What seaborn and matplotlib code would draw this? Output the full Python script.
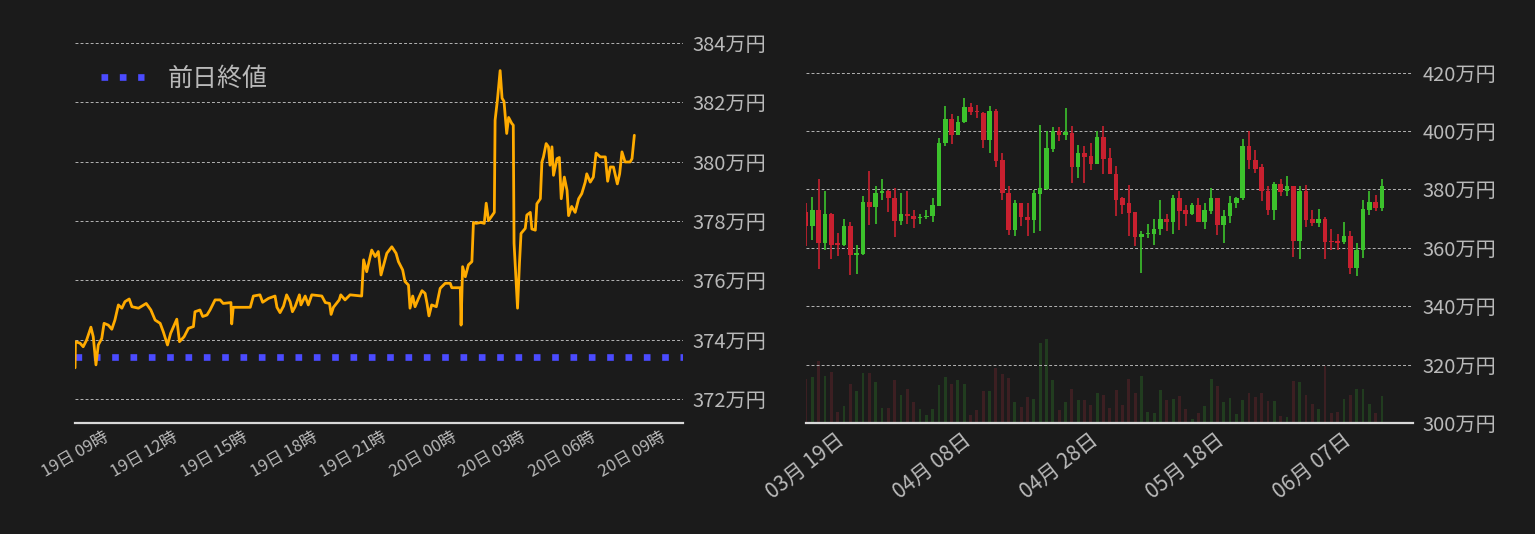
import numpy as np
import pandas as pd
import matplotlib
matplotlib.use("Agg")
import matplotlib.pyplot as plt
import matplotlib.dates as mdates
import seaborn as sns

# 24h price, 万円 (minutes after 19日 09:00)
day_start = pd.Timestamp("2023-06-19 09:00")
minutes = [0, 1, 13, 21, 30, 41, 47, 54, 60, 69,
           75, 86, 95, 103, 112, 121, 129, 140, 147, 164,
           184, 196, 207, 220, 228, 239, 247, 263, 270, 282,
           293, 306, 310, 323, 330, 341, 349, 362, 375, 383,
           403, 405, 409, 453, 461, 478, 485, 500, 517, 522,
           530, 539, 547, 556, 562, 569, 580, 584, 595, 603,
           612, 638, 647, 658, 662, 668, 683, 687, 698, 711,
           741, 746, 754, 767, 776, 784, 791, 799, 806, 819,
           830, 836, 847, 853, 862, 866, 873, 879, 888, 897,
           905, 910, 915, 922, 934, 944, 957, 970, 974, 996,
           998, 1002, 1009, 1017, 1026, 1030, 1037, 1049, 1058, 1063,
           1069, 1078, 1084, 1086, 1092, 1099, 1104, 1109, 1116, 1121,
           1129, 1133, 1135, 1144, 1149, 1153, 1164, 1168, 1177, 1181,
           1190, 1194, 1203, 1207, 1211, 1218, 1224, 1228, 1233, 1237,
           1246, 1252, 1257, 1265, 1272, 1276, 1284, 1293, 1302, 1310,
           1319, 1323, 1332, 1340, 1347, 1358, 1371, 1377, 1384, 1392,
           1402, 1408, 1414, 1422, 1435, 1440, 1446]
price = [373.05, 373.93, 373.88, 373.76, 373.99, 374.42, 374.10, 373.15, 373.82, 374.04,
         374.55, 374.49, 374.35, 374.66, 375.17, 375.06, 375.28, 375.37, 375.11, 375.06,
         375.22, 375.00, 374.66, 374.55, 374.27, 373.82, 374.21, 374.69, 373.93, 374.10,
         374.38, 374.44, 374.94, 375.00, 374.78, 374.83, 375.00, 375.34, 375.34, 375.22,
         375.25, 374.53, 375.09, 375.09, 375.47, 375.51, 375.26, 375.39, 375.47, 375.09,
         374.91, 375.13, 375.51, 375.28, 374.94, 375.11, 375.51, 375.17, 375.47, 375.17,
         375.51, 375.47, 375.25, 375.22, 374.85, 375.09, 375.34, 375.51, 375.34, 375.51,
         375.47, 376.69, 376.29, 377.02, 376.80, 376.97, 376.18, 376.57, 376.91, 377.13,
         376.91, 376.63, 376.35, 375.96, 375.84, 375.06, 375.47, 375.11, 375.39, 375.65,
         375.56, 375.22, 374.80, 375.17, 375.11, 375.73, 375.90, 375.90, 375.75, 375.75,
         374.49, 376.46, 376.12, 376.52, 376.63, 377.95, 377.92, 377.95, 377.92, 378.60,
         378.01, 378.18, 378.29, 381.40, 382.08, 383.07, 382.14, 382.03, 380.95, 381.49,
         381.29, 381.23, 377.25, 375.06, 376.57, 377.58, 377.75, 378.20, 378.29, 377.73,
         377.69, 378.58, 378.75, 379.99, 380.16, 380.61, 380.50, 379.88, 380.50, 379.54,
         380.10, 380.14, 378.75, 379.48, 379.03, 378.18, 378.49, 378.29, 378.75, 378.92,
         379.31, 379.59, 379.31, 379.48, 380.29, 380.16, 380.16, 379.34, 379.82, 379.82,
         379.25, 379.59, 380.33, 379.99, 379.99, 380.10, 380.89]
prev_close = 373.43

# daily candles from 03月19日, 万円
first_day = pd.Timestamp("2023-03-19")
opens = [372.1, 367.4, 373.1, 361.6, 371.7, 361.5, 360.9, 367.6, 357.5, 358.0,
         375.8, 373.9, 378.7, 379.3, 377.2, 369.1, 371.7, 371.0, 370.1, 370.5,
         370.8, 374.2, 395.8, 404.2, 398.5, 403.0, 408.3, 406.6, 406.3, 396.8,
         407.0, 389.9, 378.9, 366.0, 375.2, 370.7, 369.5, 378.3, 380.2, 394.0,
         399.9, 398.7, 399.4, 387.8, 392.6, 391.6, 388.8, 398.1, 390.9, 385.4,
         376.9, 375.2, 372.1, 363.6, 364.7, 364.7, 366.3, 370.0, 368.8, 377.2,
         372.8, 371.4, 374.8, 369.0, 372.5, 377.2, 367.7, 370.8, 375.3, 376.9,
         395.0, 390.2, 387.5, 379.6, 372.9, 382.0, 379.4, 381.0, 362.3, 379.6,
         369.7, 368.4, 369.7, 362.2, 362.2, 361.9, 364.2, 353.0, 359.2, 373.1,
         375.8, 373.6]
highs = [375.2, 377.3, 383.4, 379.3, 372.0, 365.1, 369.7, 369.0, 361.1, 377.9,
         386.4, 381.2, 383.4, 379.8, 380.6, 378.6, 379.3, 373.1, 371.6, 373.1,
         376.9, 397.6, 408.7, 405.9, 405.1, 411.3, 409.6, 409.0, 406.6, 408.7,
         407.6, 392.3, 381.3, 376.2, 375.2, 375.5, 379.9, 402.2, 400.0, 401.5,
         401.5, 408.0, 401.8, 395.3, 395.0, 396.0, 400.0, 401.8, 394.3, 388.1,
         377.5, 381.6, 372.1, 365.9, 368.0, 369.7, 376.5, 371.4, 378.2, 379.6,
         374.8, 375.3, 376.9, 375.2, 380.6, 377.2, 372.8, 377.9, 377.5, 397.3,
         400.0, 393.6, 388.8, 381.3, 382.7, 383.4, 384.7, 381.0, 381.3, 381.6,
         372.8, 373.4, 370.4, 366.3, 364.6, 369.0, 365.6, 361.5, 376.2, 379.6,
         378.2, 383.4]
lows = [360.6, 362.8, 352.9, 359.1, 356.0, 357.1, 360.6, 350.6, 350.9, 357.5,
        367.7, 368.1, 376.3, 372.2, 363.6, 367.7, 368.1, 366.7, 368.1, 369.8,
        369.0, 374.2, 394.8, 395.4, 398.5, 402.6, 405.4, 404.3, 394.1, 392.4,
        387.6, 376.2, 364.3, 364.0, 367.4, 364.0, 364.9, 365.7, 379.7, 392.9,
        396.5, 397.0, 382.1, 384.0, 382.3, 386.8, 388.6, 385.4, 385.1, 370.8,
        371.4, 364.0, 360.6, 351.3, 363.4, 361.1, 364.3, 365.7, 364.6, 366.0,
        367.4, 371.1, 369.0, 366.3, 371.5, 364.3, 361.6, 368.4, 373.6, 376.3,
        386.9, 385.5, 376.0, 371.2, 369.5, 377.7, 377.9, 356.8, 356.1, 367.1,
        367.4, 367.1, 356.1, 359.2, 359.2, 361.3, 351.0, 350.3, 356.5, 371.2,
        372.5, 372.5]
closes = [367.4, 373.1, 361.6, 371.7, 360.9, 360.9, 367.6, 357.5, 358.1, 375.8,
          373.9, 378.9, 379.3, 377.0, 369.1, 371.7, 370.8, 369.8, 370.7, 371.0,
          374.5, 396.0, 404.2, 398.5, 403.2, 408.3, 406.4, 406.4, 396.8, 407.0,
          389.6, 378.7, 366.0, 375.2, 370.5, 369.5, 378.6, 380.6, 394.3, 399.9,
          398.7, 399.5, 387.8, 392.6, 391.2, 388.8, 398.1, 390.5, 385.1, 376.5,
          374.8, 371.9, 363.6, 364.6, 364.9, 366.6, 370.0, 368.8, 377.2, 372.5,
          371.4, 374.8, 369.0, 372.8, 377.2, 367.7, 371.0, 375.5, 377.2, 395.0,
          390.0, 387.1, 379.3, 372.9, 382.0, 379.0, 381.0, 362.3, 379.6, 369.5,
          368.4, 369.7, 361.9, 361.9, 361.6, 363.9, 353.0, 359.4, 373.4, 375.8,
          373.6, 381.0]
volume = [128, 134, 183, 137, 149, 33, 50, 113, 95, 146,
          146, 119, 44, 44, 125, 83, 101, 62, 41, 23,
          41, 110, 134, 113, 125, 113, 23, 38, 95, 95,
          161, 143, 131, 62, 47, 77, 71, 233, 245, 125,
          38, 62, 101, 68, 68, 53, 89, 83, 44, 98,
          53, 128, 89, 137, 33, 29, 98, 68, 71, 80,
          41, 11, 29, 50, 128, 107, 62, 74, 26, 68,
          89, 77, 89, 65, 65, 20, 17, 122, 119, 83,
          56, 41, 167, 29, 32, 71, 83, 101, 101, 56,
          29, 80]

bg = '#1b1b1b'
grid_c = '#b4b4b4'
text_c = '#b9b9b9'
up_c = '#3cc22c'
down_c = '#c8202f'

sns.set_theme(style="dark")
plt.rcParams['font.family'] = ['Noto Sans CJK JP', 'DejaVu Sans']

fig = plt.figure(figsize=(15.35, 5.34), dpi=100, facecolor=bg)
ax1 = fig.add_axes([0.0489, 0.2079, 0.3961, 0.736])
ax2 = fig.add_axes([0.5251, 0.2079, 0.3954, 0.736])

# left: intraday line
df = pd.DataFrame({'time': day_start + pd.to_timedelta(minutes, unit='min'),
                   'price': price})
ax1.axhline(prev_close, color='#4b4bff', lw=4.8, dashes=(1, 1.75),
            label='前日終値', zorder=2)
sns.lineplot(data=df, x='time', y='price', ax=ax1, color='#ffab00', lw=2.0, zorder=3)
ax1.set_xlim(day_start, day_start + pd.Timedelta(hours=26.2))
ax1.set_ylim(371.19, 384.44)
ax1.set_yticks(np.arange(372, 385, 2))
ax1.xaxis.set_major_locator(mdates.HourLocator(byhour=range(0, 24, 3)))
ax1.xaxis.set_major_formatter(mdates.DateFormatter('%d日 %H時'))
leg = ax1.legend(loc='upper left', bbox_to_anchor=(0.005, 0.965), frameon=False,
                 fontsize=18, handlelength=1.75, handletextpad=0.95)
for t in leg.get_texts():
    t.set_color(text_c)

# right: daily candles + volume
x = mdates.date2num(first_day + pd.to_timedelta(np.arange(len(opens)), unit='D'))
o = np.array(opens)
c = np.array(closes)
cols = np.where(c >= o, up_c, down_c)
volv = ax2.twinx()
volv.bar(x, volume, width=0.45, color=np.where(c >= o, '#213c1f', '#3c1f22'),
         linewidth=0, edgecolor='none')
volv.set_ylim(0, 1152)
volv.set_yticks([])
volv.grid(False)
for s in volv.spines.values():
    s.set_visible(False)
volv.set_zorder(0)
ax2.set_zorder(1)
ax2.patch.set_visible(False)
volv.patch.set_visible(True)
volv.set_facecolor(bg)

ax2.vlines(x, lows, highs, colors=cols, lw=1.2, zorder=3)
ax2.bar(x, np.maximum(np.abs(c - o), 0.35), bottom=np.minimum(o, c), width=0.72,
        color=cols, linewidth=0, edgecolor='none', zorder=4)
ax2.set_xlim(x[0], x[0] + 95.9)
ax2.set_ylim(300, 434.6)
ax2.set_yticks(np.arange(300, 421, 20))
ax2.set_xticks(mdates.date2num(first_day + pd.to_timedelta(np.arange(0, 81, 20), unit='D')))
ax2.xaxis.set_major_formatter(mdates.DateFormatter('%m月 %d日'))

for ax in (ax1, ax2):
    ax.set_facecolor(bg)
    ax.set_xlabel('')
    ax.set_ylabel('')
    ax.grid(False)
    ax.yaxis.grid(True, color=grid_c, ls=(0, (3, 2.2)), lw=0.7)
    for s in ['top', 'left', 'right']:
        ax.spines[s].set_visible(False)
    ax.spines['bottom'].set_color('#d8d8d8')
    ax.spines['bottom'].set_linewidth(1.6)
    ax.yaxis.tick_right()
    ax.tick_params(axis='y', length=0, colors=text_c, labelsize=14.5, pad=7)
    ax.tick_params(axis='x', length=0, colors=text_c, pad=4)
    ax.yaxis.set_major_formatter(plt.FuncFormatter(lambda v, p: f'{v:.0f}万円'))

plt.setp(ax1.get_xticklabels(), rotation=30, ha='center', fontsize=12)
plt.setp(ax2.get_xticklabels(), rotation=38, ha='center', fontsize=15)

fig.savefig('out.png', dpi=100, facecolor=bg)
